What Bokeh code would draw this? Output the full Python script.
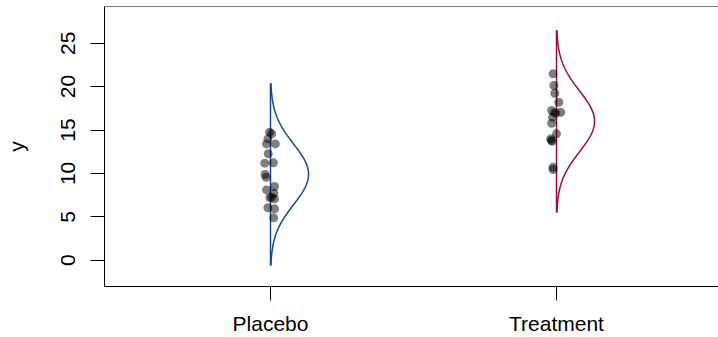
import numpy as np
from bokeh.plotting import figure
from bokeh.models import Range1d, FixedTicker, Span
from bokeh.embed import file_html
from bokeh.resources import INLINE

groups = ["Placebo", "Treatment"]
group_pos = [1, 2]
colors = ["#1446A0", "#9B0A45"]

# fitted normal parameters (mean, sd)
means = [9.9, 16.0]
sds = [3.5, 3.5]

placebo_y = [14.75, 14.56, 13.98, 13.4, 13.4, 12.26, 11.18, 11.22, 9.87, 9.56,
             8.1, 8.49, 7.72, 7.19, 7.26, 7.07, 6.04, 5.92, 4.88]
placebo_dx = [-0.003, 0.004, -0.009, -0.014, 0.017, -0.008, -0.020, 0.010, -0.019, -0.015,
              -0.014, 0.014, 0.012, -0.002, 0.004, 0.014, -0.009, 0.014, 0.011]
treat_y = [21.47, 20.13, 19.24, 18.2, 17.25, 16.94, 17.05, 16.47, 15.78, 14.56,
           13.98, 13.71, 10.71, 10.45, 17.0, 13.8]
treat_dx = [-0.012, -0.009, -0.006, 0.008, -0.017, -0.002, 0.015, -0.014, -0.017, 0.0,
            -0.020, -0.015, -0.012, -0.012, -0.007, -0.018]

y_ticks = [0, 5, 10, 15, 20, 25]

W, H = 718, 337
p = figure(width=W, height=H, output_backend="svg", toolbar_location=None,
           x_range=Range1d(0.4196, 2.5664), y_range=Range1d(-3.03, 29.23),
           min_border_left=104, min_border_right=0, min_border_top=6, min_border_bottom=50)
p.grid.visible = False
p.outline_line_color = None
p.background_fill_color = "white"
p.border_fill_color = "white"

FONT = "Liberation Sans"
ax = p.xaxis[0]
ax.ticker = FixedTicker(ticks=group_pos)
ax.major_label_overrides = {1: groups[0], 2: groups[1]}
ax.major_tick_out = 14
ax.major_tick_in = 0
ax.minor_tick_line_color = None
ax.major_label_text_font = FONT
ax.major_label_text_font_size = "21px"
ax.major_label_text_color = "black"
ax.major_label_standoff = 11
ax.axis_line_color = "black"

ay = p.yaxis[0]
ay.ticker = FixedTicker(ticks=y_ticks)
ay.major_tick_out = 14
ay.major_tick_in = 0
ay.minor_tick_line_color = None
ay.major_label_orientation = "vertical"
ay.major_label_text_font = FONT
ay.major_label_text_font_size = "21px"
ay.major_label_text_color = "black"
ay.major_label_standoff = 15
ay.axis_label = "y"
ay.axis_label_text_font = FONT
ay.axis_label_text_font_size = "21px"
ay.axis_label_text_font_style = "normal"
ay.axis_label_text_color = "black"
ay.axis_label_standoff = 31
ay.axis_line_color = "black"

p.add_layout(Span(location=29.23, dimension="width", line_color="black", line_width=1))

half_width = 0.133
for pos, m, s, c in zip(group_pos, means, sds, colors):
    z = np.linspace(-3, 3, 200)
    yy = m + z * s
    xx = pos + half_width * np.exp(-0.5 * z ** 2)
    p.line(xx, yy, line_color=c, line_width=1.5)
    p.line([pos, pos], [m - 3 * s, m + 3 * s], line_color=c, line_width=1.5)

p.scatter([1 + d for d in placebo_dx], placebo_y, size=9, fill_color="black",
          fill_alpha=0.5, line_color=None)
p.scatter([2 + d for d in treat_dx], treat_y, size=9, fill_color="black",
          fill_alpha=0.5, line_color=None)

open("out.html", "w").write(file_html(p, INLINE))
